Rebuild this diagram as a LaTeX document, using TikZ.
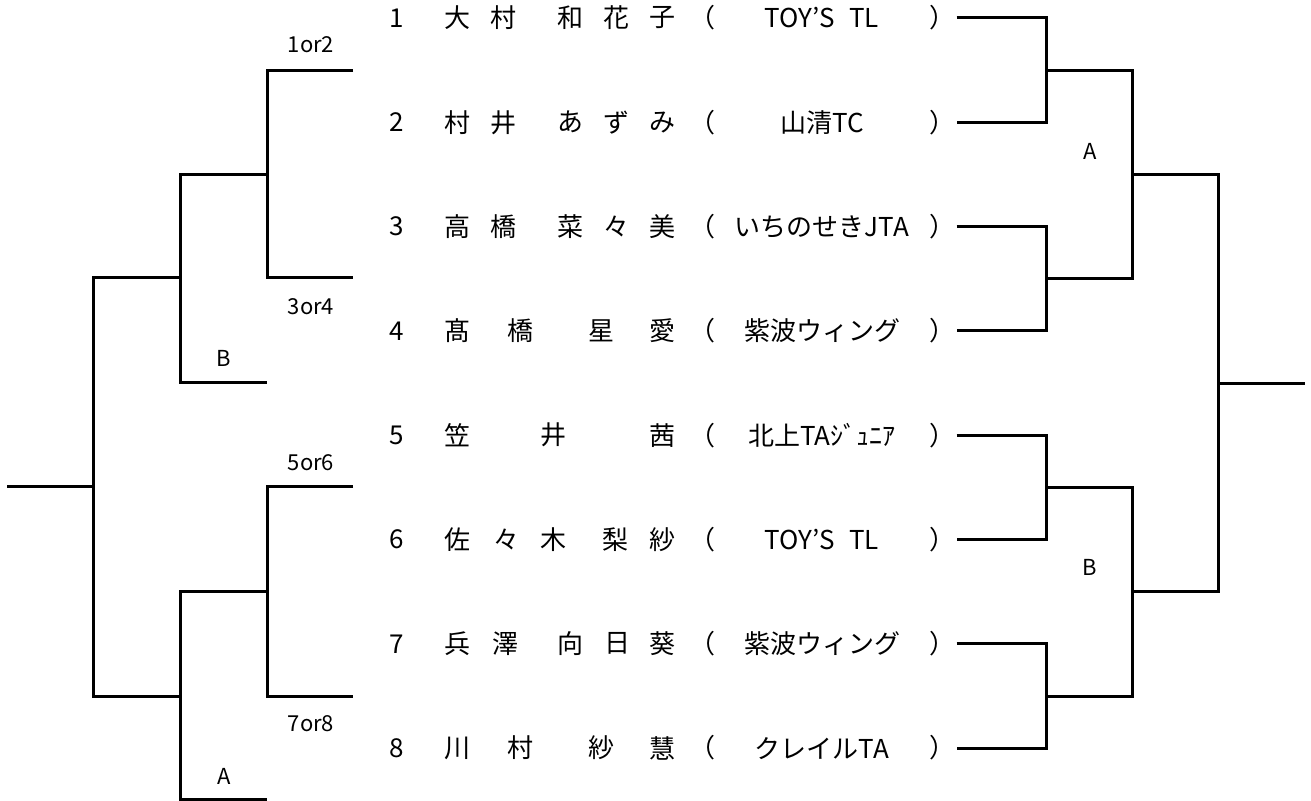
\documentclass[tikz,border=0pt]{standalone}
\usepackage{fontspec}
\setmainfont{Noto Sans CJK JP}
\begin{document}
\begin{tikzpicture}[x=0.5pt, y=-0.5pt, line width=1.5pt,
        txt/.style={inner sep=0pt, font=\fontsize{13}{15}\selectfont},
        lbl/.style={inner sep=0pt, font=\fontsize{11}{13}\selectfont}]
    \useasboundingbox (0,0) rectangle (1311,801);

    % player rows
    \foreach \i/\club in {1/TOY’S\hspace{7pt}TL, 2/山清TC, 3/いちのせきJTA, 4/紫波ウィング,
            5/北上TAｼﾞｭﾆｱ, 6/TOY’S\hspace{7pt}TL, 7/紫波ウィング, 8/クレイルTA} {
        \pgfmathsetmacro\yy{18+104.3*(\i-1)}
        \node[txt] (no\i) at (397,\yy) {\i};
        \node[txt] (lp\i) at (702,\yy) {（};
        \node[txt] (club\i) at (822,\yy) {\club};
        \node[txt] (p\i) at (942,\yy) {）};
    }

    % names
    \foreach \x/\c [count=\k] in {457/大,503/村,570/和,616/花,662/子} \node[txt] (nm1-\k) at (\x,18) {\c};
    \foreach \x/\c [count=\k] in {457/村,503/井,570/あ,616/ず,662/み} \node[txt] (nm2-\k) at (\x,122.3) {\c};
    \foreach \x/\c [count=\k] in {457/高,503/橋,570/菜,616/々,662/美} \node[txt] (nm3-\k) at (\x,226.6) {\c};
    \foreach \x/\c [count=\k] in {457/髙,520/橋,601/星,662/愛} \node[txt] (nm4-\k) at (\x,330.9) {\c};
    \foreach \x/\c [count=\k] in {457/笠,553/井,662/茜} \node[txt] (nm5-\k) at (\x,435.2) {\c};
    \foreach \x/\c [count=\k] in {457/佐,506/々,553/木,615/梨,662/紗} \node[txt] (nm6-\k) at (\x,539.5) {\c};
    \foreach \x/\c [count=\k] in {457/兵,505/澤,570/向,617/日,662/葵} \node[txt] (nm7-\k) at (\x,643.8) {\c};
    \foreach \x/\c [count=\k] in {457/川,520/村,601/紗,662/慧} \node[txt] (nm8-\k) at (\x,748.1) {\c};

    % right bracket
    \coordinate (qa) at (1046,70.2);
    \coordinate (qb) at (1046,278.8);
    \coordinate (qc) at (1046,487.4);
    \coordinate (qd) at (1046,696);
    \coordinate (sa) at (1132,174.5);
    \coordinate (sb) at (1132,591.7);
    \coordinate (fr) at (1218,383.1);
    \coordinate (wr) at (1305,383.1);

    \draw (p1.east) -| (qa) |- (p2.east);
    \draw (p3.east) -| (qb) |- (p4.east);
    \draw (p5.east) -| (qc) |- (p6.east);
    \draw (p7.east) -| (qd) |- (p8.east);
    \draw (qa) -| (sa) |- (qb);
    \draw (qc) -| (sb) |- (qd);
    \draw (sa) -| (fr) |- (sb);
    \draw (fr) -- (wr);

    \node[lbl] (ra) at (1090,151) {A};
    \node[lbl] (rb) at (1090,567) {B};

    % left bracket
    \coordinate (la) at (353,71);
    \coordinate (lb) at (353,278);
    \coordinate (lc) at (353,487);
    \coordinate (ld) at (353,696);
    \coordinate (ja) at (267,174.5);
    \coordinate (jb) at (267,591.5);
    \coordinate (bB) at (267,383);
    \coordinate (bA) at (267,799);
    \coordinate (ka) at (180,278);
    \coordinate (kb) at (180,696);
    \coordinate (fl) at (93,487);
    \coordinate (wl) at (7,487);

    \draw (la) -| (ja) |- (lb);
    \draw (lc) -| (jb) |- (ld);
    \draw (ja) -| (ka) |- (bB);
    \draw (jb) -| (kb) |- (bA);
    \draw (ka) -| (fl) |- (kb);
    \draw (fl) -- (wl);

    \node[lbl] (w12) at (311,45) {1or2};
    \node[lbl] (w34) at (311,307) {3or4};
    \node[lbl] (w56) at (311,463) {5or6};
    \node[lbl] (w78) at (311,724) {7or8};
    \node[lbl] (lB) at (224,358) {B};
    \node[lbl] (lA) at (224,776) {A};
\end{tikzpicture}
\end{document}
